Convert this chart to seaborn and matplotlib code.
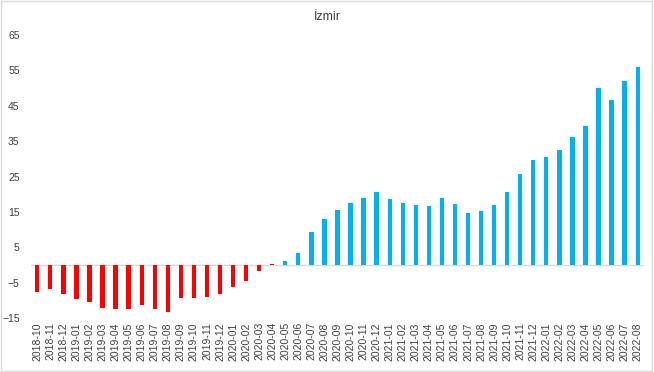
import numpy as np
import pandas as pd
import seaborn as sns
import matplotlib.pyplot as plt

#monthly labels shown on x axis
months = ["2018-10", "2018-11", "2018-12",
          "2019-01", "2019-02", "2019-03", "2019-04", "2019-05", "2019-06",
          "2019-07", "2019-08", "2019-09", "2019-10", "2019-11", "2019-12",
          "2020-01", "2020-02", "2020-03", "2020-04", "2020-05", "2020-06",
          "2020-07", "2020-08", "2020-09", "2020-10", "2020-11", "2020-12",
          "2021-01", "2021-02", "2021-03", "2021-04", "2021-05", "2021-06",
          "2021-07", "2021-08", "2021-09", "2021-10", "2021-11", "2021-12",
          "2022-01", "2022-02", "2022-03", "2022-04", "2022-05", "2022-06",
          "2022-07", "2022-08"]

#values
values = [-7.5, -6.9, -8.2,
          -9.5, -10.5, -12.1, -12.4, -12.4, -11.2,
          -12.4, -13.3, -9.2, -9.2, -9.1, -8.1,
          -6.2, -4.4, -1.8, 0.4, 1.2, 3.5,
          9.4, 13.0, 15.5, 17.5, 18.8, 20.7,
          18.7, 17.4, 17.0, 16.7, 18.9, 17.2,
          14.6, 15.2, 16.9, 20.7, 25.7, 29.8,
          30.6, 32.5, 36.3, 39.2, 50.0, 46.7,
          52.1, 56.0]

#last month of the red (falling) period
last_red = "2020-04"

y_ticks = [-15, -5, 5, 15, 25, 35, 45, 55, 65]

df = pd.DataFrame({"Month": months, "Value": values})
df["Period"] = np.where(df.index <= months.index(last_red), "down", "up")

plt.rcParams['font.family'] = ['Liberation Sans', 'DejaVu Sans']

fig = plt.figure(figsize=(6.54, 3.72), dpi=100)
ax = fig.add_axes([0.047, 0.145, 0.938, 0.761])

sns.barplot(data=df, x="Month", y="Value", hue="Period",
            palette={"down": "#FF0000", "up": "#00B0F0"}, saturation=1,
            dodge=False, width=0.33, legend=False, ax=ax)

ax.set_ylim(-15, 65)
ax.set_yticks(y_ticks)
ax.set_xlim(-0.5, len(months) - 0.5)
ax.axhline(0, color="#d9d9d9", linewidth=1, zorder=0)

ax.set_xlabel("")
ax.set_ylabel("")
ax.tick_params(axis="x", labelrotation=90, labelsize=7.5, colors="#404040", length=0, pad=3)
ax.tick_params(axis="y", labelsize=7.5, colors="#404040", length=0, pad=8)
for s in ax.spines.values():
    s.set_visible(False)

fig.text(0.5, 0.955, "İzmir", ha="center", va="center", fontsize=9, color="#404040")

#light border round the chart
fig.patches.append(plt.Rectangle((0.002, 0.003), 0.995, 0.994, transform=fig.transFigure,
                                 fill=False, edgecolor="#d9d9d9", linewidth=1))

fig.savefig("out.png", dpi=100)
